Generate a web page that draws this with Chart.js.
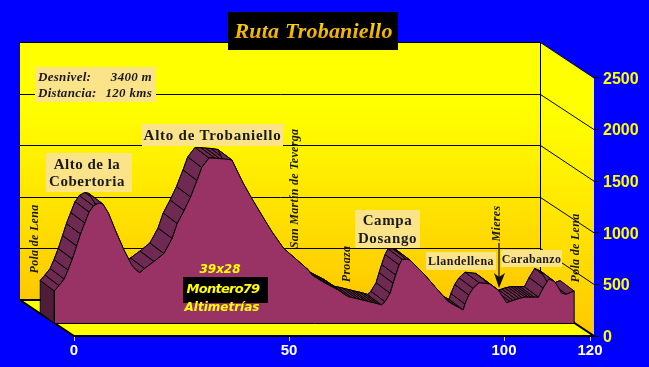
<!DOCTYPE html>
<html><head><meta charset="utf-8">
<style>html,body{margin:0;padding:0;background:#0000ff;overflow:hidden}canvas{display:block}</style>
<script src="https://cdn.jsdelivr.net/npm/chart.js@4/dist/chart.umd.min.js"></script>
</head><body><canvas id="c" width="649" height="367"></canvas>
<script>
// Profile: distance (km) and altitude (m)
const km = [0,1.1,2.3,3.2,4.2,5.2,6.1,7.1,8.1,9.1,10.4,11.3,12.6,14.1,16.2,18,19,19.9,21,23.2,25.5,27.4,28.6,30.2,31.7,33.2,34.3,36,37.4,38.5,39.7,41.3,43.9,45.9,49.4,50.6,53.3,56,59.1,59.9,63,64.5,66,67.1,68.4,69.2,70.3,71.3,72.3,73.2,74.2,75.2,76.1,76.9,78.1,78.8,79.4,80.2,80.9,82,82.7,86.2,88.5,91.6,93.2,95.1,95.5,96.4,97.4,98.8,101.3,103.2,105.2,106,106.7,107.4,108.1,108.8,109.5,110.2,110.9,111.6,112.6,113.7,115,116.4,118,119.1,120.9];
const alt = [313,366,429,516,623,749,865,972,1078,1137,1166,1156,1066,911,710,565,516,490,531,599,676,822,967,1093,1224,1384,1510,1602,1599,1595,1592,1582,1359,1211,969,888,727,630,516,468,388,355,323,290,257,250,239,229,219,209,200,189,178,209,291,389,468,565,620,620,613,468,355,209,172,129,187,274,339,393,381,323,200,211,221,231,241,248,253,253,253,253,253,342,429,403,291,281,313];
const xTicks = [0,50,100,120];
const yTicks = [0,500,1000,1500,2000,2500];
const frontShift = {x:-4.58, y:123};
const backShift = {x:-7.85, y:225};
const wallShift = {x:-12.56, y:348};
const xMin = -12.56, xMax = 120.93, yMax = 2868;

const frontData = km.map((k,i)=>({x:k+frontShift.x, y:alt[i]+frontShift.y}));
const backData = km.map((k,i)=>({x:k+backShift.x, y:alt[i]+backShift.y}));

// Text
const boxes = [
 {lines:[["Desnivel:","3400 m"],["Distancia:","120 kms"]],x:35,y:67,w:121,h:35,font:"italic bold 13px 'Liberation Serif'",ls:"0.3px",lh:15.5,tx:38,rx:152},
 {lines:["Alto de Trobaniello"],x:142,y:124,w:141,h:22,font:"bold 15px 'Liberation Serif'",ls:"0.75px",lh:17},
 {lines:["Alto de la","Cobertoria"],x:46,y:153,w:86,h:39,font:"bold 15px 'Liberation Serif'",ls:"0.5px",lh:17,cx:87},
 {lines:["Campa","Dosango"],x:355,y:210,w:65,h:38,font:"bold 15px 'Liberation Serif'",ls:"0.6px",lh:18},
 {lines:["Llandellena"],x:426,y:252,w:70,h:18,font:"bold 12px 'Liberation Serif'",ls:"0.5px",lh:14},
 {lines:["Carabanzo"],x:501,y:250,w:61,h:17,font:"bold 12px 'Liberation Serif'",ls:"0.3px",lh:14}
];
const vLabels = [
 {t:"Pola de Lena",x:35,y:239,s:12},
 {t:"San Martín de Teverga",x:295,y:188.5,s:12},
 {t:"Proaza",x:347,y:264,s:12},
 {t:"Mieres",x:497,y:223.5,s:12},
 {t:"Pola de Lena",x:576,y:248,s:12}
];
const stamps = [
 {t:"39x28",x:220,y:270,font:"italic bold 12px 'DejaVu Sans'",ls:"0px"},
 {t:"Montero79",x:223,y:290,font:"italic bold 13px 'DejaVu Sans'",ls:"-0.75px"},
 {t:"Altimetrías",x:222,y:308,font:"italic bold 12px 'DejaVu Sans'",ls:"0px"}
];

const scene = {
 id:'scene',
 beforeDatasetsDraw(ch){
  const c=ch.ctx,X=ch.scales.x,Y=ch.scales.y;
  const px=v=>X.getPixelForValue(v),py=v=>Y.getPixelForValue(v);
  const bl=px(0+wallShift.x),br=px(xMax+wallShift.x),wb=py(wallShift.y),wt=py(2500+wallShift.y);
  const fl=px(0),fr=px(xMax),fb=py(0),ft=py(2500);
  c.save();
  let g=c.createLinearGradient(0,wt,0,wb);
  g.addColorStop(0,'#ffff00');g.addColorStop(0.25,'#ffff00');g.addColorStop(1,'#ffc800');
  c.fillStyle=g;c.fillRect(bl,wt,br-bl,wb-wt);
  g=c.createLinearGradient(0,wt,0,fb);
  g.addColorStop(0,'#ffff00');g.addColorStop(0.25,'#ffff00');g.addColorStop(1,'#ffc800');
  c.fillStyle=g;c.beginPath();c.moveTo(br,wt);c.lineTo(fr,ft);c.lineTo(fr,fb);c.lineTo(br,wb);c.closePath();c.fill();
  c.fillStyle='#ffff00';c.beginPath();c.moveTo(bl,wb);c.lineTo(br,wb);c.lineTo(fr,fb);c.lineTo(fl,fb);c.closePath();c.fill();
  c.strokeStyle='#000';c.lineWidth=1;
  yTicks.forEach(v=>{
    const a=Math.round(py(v+wallShift.y))+.5;
    c.beginPath();c.moveTo(bl,a);c.lineTo(br+.5,a);c.lineTo(fr,py(v));c.stroke();
  });
  c.beginPath();c.moveTo(Math.round(br)+.5,wt);c.lineTo(Math.round(br)+.5,wb);c.stroke();
  c.lineWidth=2;
  c.beginPath();c.moveTo(bl,wb);c.lineTo(br,wb);c.stroke();
  c.beginPath();c.moveTo(bl,wb);c.lineTo(fl,fb);c.lineTo(fr,fb);c.lineTo(br,wb);c.stroke();
  c.restore();
 },
 afterDatasetDraw(ch,args){
  if(args.index!==1) return;
  const c=ch.ctx,Y=ch.scales.y,f=ch.getDatasetMeta(0).data,b=ch.getDatasetMeta(1).data;
  const base=Y.getPixelForValue(frontShift.y),backBase=Y.getPixelForValue(backShift.y);
  c.save();c.lineJoin='round';c.strokeStyle='#000';c.lineWidth=1;
  c.fillStyle='#4f1c3a';c.beginPath();
  c.moveTo(b[0].x,b[0].y);c.lineTo(f[0].x,f[0].y);c.lineTo(f[0].x,base);c.lineTo(b[0].x,backBase);c.closePath();c.fill();c.stroke();
  c.fillStyle='#6e2a52';
  for(let i=0;i<f.length-1;i++){
    c.beginPath();c.moveTo(b[i].x,b[i].y);c.lineTo(b[i+1].x,b[i+1].y);c.lineTo(f[i+1].x,f[i+1].y);c.lineTo(f[i].x,f[i].y);c.closePath();c.fill();c.stroke();
  }
  c.restore();
 },
 afterDatasetsDraw(ch){
  const c=ch.ctx,Y=ch.scales.y,f=ch.getDatasetMeta(0).data;
  const base=Math.round(Y.getPixelForValue(frontShift.y))+.5;
  c.save();c.strokeStyle='#000';c.lineWidth=1;
  c.beginPath();c.moveTo(f[0].x,f[0].y);c.lineTo(f[0].x,base);c.lineTo(f[f.length-1].x,base);c.lineTo(f[f.length-1].x,f[f.length-1].y);c.stroke();
  c.restore();
 },
 afterDraw(ch){
  const c=ch.ctx;
  c.save();c.textBaseline='middle';
  c.fillStyle='#000';c.fillRect(228,12,170,38);
  c.font="italic bold 22px 'Liberation Serif'";c.textAlign='center';c.letterSpacing='0.2px';
  const tg=c.createLinearGradient(0,20,0,42);tg.addColorStop(0,'#ffe000');tg.addColorStop(1,'#e89a00');
  c.fillStyle=tg;c.fillText("Ruta Trobaniello",313.5,32);
  c.fillStyle='#1a1a00';
  vLabels.forEach(l=>{
    c.save();c.translate(l.x,l.y);c.rotate(-Math.PI/2);
    c.font="italic bold "+l.s+"px 'Liberation Serif'";c.letterSpacing='0.3px';c.textAlign='center';
    c.fillText(l.t,0,0);c.restore();
  });
  c.strokeStyle='#3a3000';c.lineWidth=1.5;c.beginPath();c.moveTo(499,243);c.lineTo(499,280);c.stroke();
  c.fillStyle='#111';c.beginPath();c.moveTo(494,273);c.lineTo(499,288);c.lineTo(505,273);c.lineTo(499,277);c.closePath();c.fill();
  boxes.forEach(b=>{
    c.fillStyle='#fbe38a';c.fillRect(b.x,b.y,b.w,b.h);
    c.fillStyle='#1a1a1a';c.font=b.font;c.letterSpacing=b.ls;
    const cy=b.y+b.h/2-(b.lines.length-1)*b.lh/2;
    b.lines.forEach((t,i)=>{
      const y=cy+i*b.lh+1;
      if(Array.isArray(t)){
        c.textAlign='left';c.fillText(t[0],b.tx,y);
        c.textAlign='right';c.fillText(t[1],b.rx,y);
      }else{
        c.textAlign='center';c.fillText(t,b.cx||b.x+b.w/2,y);
      }
    });
  });
  c.fillStyle='#000';c.fillRect(183,277,85,26);
  c.fillStyle='#ffff00';c.textAlign='center';
  stamps.forEach(s=>{c.letterSpacing=s.ls;c.font=s.font;c.fillText(s.t,s.x,s.y);});
  c.restore();
 }
};

new Chart(document.getElementById('c'),{
 type:'line',
 data:{datasets:[
  {label:'Perfil',data:frontData,borderColor:'#000',borderWidth:1,backgroundColor:'#993366',fill:{value:frontShift.y},pointRadius:0,tension:0},
  {label:'Fondo',data:backData,borderColor:'#000',borderWidth:1,fill:false,pointRadius:0,tension:0}
 ]},
 options:{
  responsive:false,animation:false,
  layout:{padding:{left:20,top:40,right:0,bottom:0}},
  plugins:{legend:{display:false},tooltip:{enabled:false},title:{display:false}},
  scales:{
   x:{type:'linear',min:xMin,max:xMax,
      afterFit(s){s.height=31;},
      afterBuildTicks(s){s.ticks=xTicks.map(v=>({value:v}));},
      border:{display:false},
      grid:{drawOnChartArea:false,color:'#c8c8ff',tickLength:5},
      ticks:{color:'#fff',padding:1,autoSkip:false,maxRotation:0,font:{family:"'Liberation Sans'",size:15,weight:'bold'},callback:v=>String(v)}},
   y:{type:'linear',position:'right',min:0,max:yMax,
      afterFit(s){s.width=55;},
      afterBuildTicks(s){s.ticks=yTicks.map(v=>({value:v}));},
      afterUpdate(s){
        const proto=Object.getPrototypeOf(s);
        s._computeLabelItems=function(a){
          const items=proto._computeLabelItems.call(this,a);
          items.forEach(i=>{i.options.translation[1]+=1.5;});
          return items;
        };
      },
      border:{display:false},
      grid:{drawOnChartArea:false,color:'#000',tickLength:5},
      ticks:{color:'#ffff00',padding:4,autoSkip:false,font:{family:"'Liberation Sans'",size:16,weight:'bold'},callback:v=>String(v)}}
  }
 },
 plugins:[scene]
});
</script></body></html>
